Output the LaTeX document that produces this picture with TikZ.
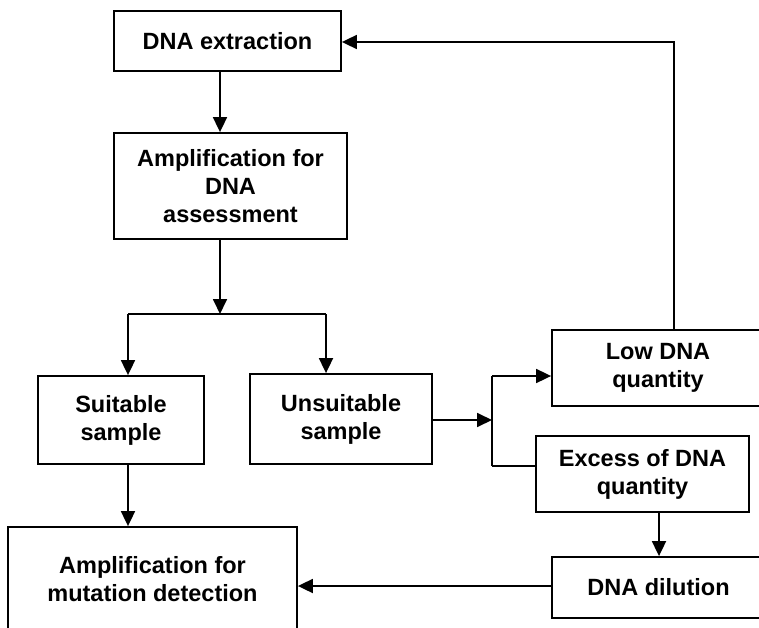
\documentclass[tikz,border=0pt]{standalone}
\usepackage{fontspec}
\setmainfont{Liberation Sans}
\usetikzlibrary{arrows.meta}
\tikzset{
  box/.style={draw, line width=1.8pt, align=center, inner sep=0pt, text=black,
    font=\fontsize{23.5}{28}\selectfont\bfseries},
  ln/.style={line width=1.8pt},
  arr/.style={line width=1.8pt, -{Triangle[length=15pt,width=14pt]}}
}
\begin{document}
\begin{tikzpicture}[x=1pt,y=-1pt]
\useasboundingbox[fill=white] (0,0) rectangle (759,628);
\clip (0,0) rectangle (759,628);
\node[box, minimum width=227pt, minimum height=60pt] (ext) at (227.5,41) {DNA extraction};
\node[box, minimum width=233pt, minimum height=106pt] (amp1) at (230.5,186) {Amplification for\\DNA\\assessment};
\node[box, minimum width=166pt, minimum height=88pt] (suit) at (121,420) {Suitable\\sample};
\node[box, minimum width=182pt, minimum height=90pt] (unsuit) at (341,419) {Unsuitable\\sample};
\node[box, minimum width=212pt, minimum height=76pt] (low) at (658,368) {Low DNA\\quantity};
\node[box, minimum width=213pt, minimum height=76pt] (excess) at (642.5,474) {Excess of DNA\\quantity};
\node[box, minimum width=213pt, minimum height=61pt] (dil) at (658.5,587.5) {DNA dilution};
\node[box, minimum width=289pt, minimum height=104pt] (amp2) at (152.5,579) {Amplification for\\mutation detection};
\coordinate (j1) at (220,314);
\coordinate (jl) at (128,314);
\coordinate (jr) at (326,314);
\coordinate (k) at (492,420);
\coordinate (ktop) at (492,376);
\coordinate (kbot) at (492,466);
\coordinate (d1) at (659,0);
\coordinate (h) at (0,586);
\coordinate (fb) at (674,42);
\draw[arr] (ext.south -| j1) -- (amp1.north -| j1);
\draw[arr] (amp1.south -| j1) -- (j1);
\draw[ln] (jl) -- (jr);
\draw[arr] (jl) -- (suit.north -| jl);
\draw[arr] (jr) -- (unsuit.north -| jr);
\draw[arr] (suit.south -| jl) -- (amp2.north -| jl);
\draw[arr] (unsuit.east |- k) -- (k);
\draw[ln] (kbot) -- (ktop);
\draw[arr] (ktop) -- (ktop -| low.west);
\draw[ln] (kbot) -- (kbot -| excess.west);
\draw[arr] (excess.south -| d1) -- (dil.north -| d1);
\draw[arr] (dil.west |- h) -- (amp2.east |- h);
\draw[arr] (low.north -| fb) -- (fb) -- (ext.east |- fb);
\end{tikzpicture}
\end{document}
